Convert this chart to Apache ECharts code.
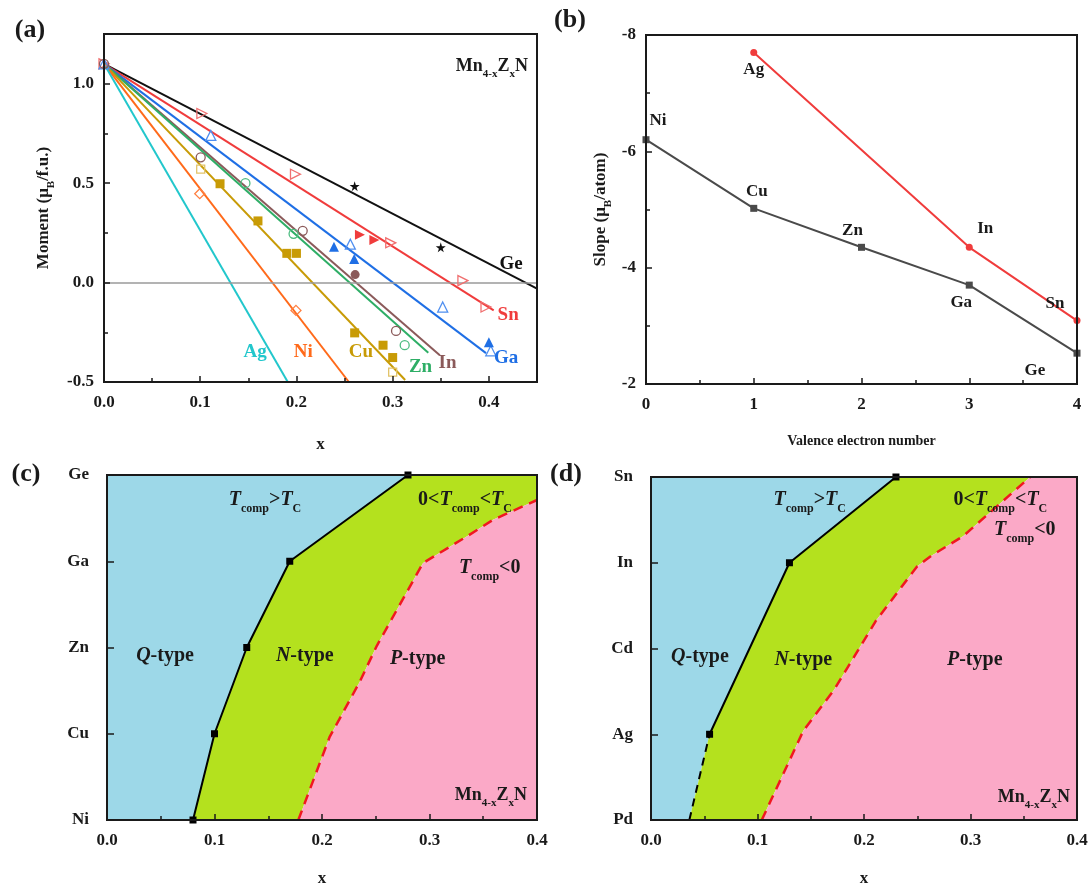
<!DOCTYPE html>
<html>
<head>
<meta charset="utf-8">
<script src="https://cdn.jsdelivr.net/npm/echarts@6/dist/echarts.min.js"></script>
<style>
html, body { margin: 0; padding: 0; background: #fff; }
#chart { width: 1092px; height: 888px; }
</style>
</head>
<body>
<div id="chart"></div>
<script>
// ---- (a) moment vs x: fitted lines all start at origin point ----
const fitStart = [0, 1.1];
const fitNames = ['Ge', 'Sn', 'Ga', 'In', 'Zn', 'Cu', 'Ni', 'Ag'];
const fitEnds = [[0.45, -0.03], [0.405, -0.14], [0.397, -0.355], [0.349, -0.365],
                 [0.337, -0.353], [0.313, -0.49], [0.2545, -0.5], [0.191, -0.5]];
const tagAtA = [[0.423, 0.095], [0.42, -0.165], [0.418, -0.38], [0.357, -0.405],
                [0.329, -0.425], [0.267, -0.35], [0.207, -0.35], [0.157, -0.35]];

// measured points
const geStar = [[0.2605, 0.485], [0.35, 0.177]];
const snOpen = [[0, 1.1], [0.1017, 0.85], [0.199, 0.545], [0.298, 0.20], [0.373, 0.01], [0.397, -0.123]];
const snFill = [[0.266, 0.24], [0.281, 0.214]];
const gaOpen = [[0, 1.1], [0.111, 0.74], [0.256, 0.193], [0.352, -0.123], [0.402, -0.343]];
const gaFill = [[0.239, 0.18], [0.26, 0.118], [0.40, -0.30]];
const inOpen = [[0, 1.1], [0.1005, 0.63], [0.2065, 0.26], [0.3035, -0.243]];
const inFill = [[0.261, 0.04]];
const znOpen = [[0.147, 0.50], [0.197, 0.245], [0.3125, -0.315]];
const cuFill = [[0.1206, 0.497], [0.16, 0.31], [0.19, 0.147], [0.20, 0.147], [0.2605, -0.253], [0.29, -0.315], [0.30, -0.377]];
const cuOpen = [[0.1005, 0.57], [0.30, -0.45]];
const niOpen = [[0.0995, 0.447], [0.1995, -0.14]];

// ---- (b) slope vs valence electron number ----
const valenceBlack = [0, 1, 2, 3, 4];
const slopeBlack = [-6.2, -5.02, -4.35, -3.70, -2.53];
const namesBlack = ['Ni', 'Cu', 'Zn', 'Ga', 'Ge'];
const valenceRed = [1, 3, 4];
const slopeRed = [-7.7, -4.35, -3.09];
const namesRed = ['Ag', 'In', 'Sn'];

// ---- (c) phase diagram, Z = Ni..Ge ----
const rowsC = ['Ni', 'Cu', 'Zn', 'Ga', 'Ge'];
const solidC = [[0.08, 0], [0.10, 1], [0.13, 2], [0.17, 3], [0.28, 4]];
const dashC = [[0.178, 0], [0.207, 0.96], [0.235, 1.6], [0.251, 2.02], [0.294, 2.98],
               [0.335, 3.29], [0.359, 3.48], [0.4, 3.71]];

// ---- (d) phase diagram, Z = Pd..Sn ----
const rowsD = ['Pd', 'Ag', 'Cd', 'In', 'Sn'];
const dashBlackD = [[0.036, 0], [0.055, 1]];
const solidD = [[0.055, 1], [0.13, 3], [0.23, 4]];
const dashD = [[0.104, 0], [0.143, 1.04], [0.172, 1.52], [0.211, 2.32], [0.25, 2.96],
               [0.263, 3.08], [0.293, 3.31], [0.356, 4]];

const regionNames = ['{i|T}{s|comp}>{i|T}{s|C}', '0<{i|T}{s|comp}<{i|T}{s|C}', '{i|T}{s|comp}<0',
                     '{i|Q}-type', '{i|N}-type', '{i|P}-type'];
const regionAtC = [[0.147, 3.71], [0.333, 3.71], [0.356, 2.92], [0.054, 1.9], [0.184, 1.9], [0.289, 1.87]];
const regionAtD = [[0.149, 3.73], [0.328, 3.73], [0.351, 3.38], [0.046, 1.9], [0.143, 1.87], [0.304, 1.87]];

const SERIF = '"Liberation Serif", "Times New Roman", serif';
const INK = '#1a1a1a';
const colorA = {
    Ge: '#111111', Sn: '#f03c3c', Ga: '#1f6fe5', In: '#8b5a5a',
    Zn: '#2eae66', Cu: '#c89b06', Ni: '#ff6a1a', Ag: '#22c7cc'
};
const STAR = 'path://M50,0 L61,35 L98,35 L68,57 L79,91 L50,70 L21,91 L32,57 L2,35 L39,35 Z';

function richOf(size, color) {
    return {
        s: { fontFamily: SERIF, fontWeight: 'bold', fontSize: Math.round(size * 0.62), color: color,
             verticalAlign: 'bottom', lineHeight: size + 4, padding: [0, 0, -3, 0] },
        i: { fontFamily: SERIF, fontWeight: 'bold', fontStyle: 'italic', fontSize: size, color: color, lineHeight: size + 4 }
    };
}
const tickLabel = { fontFamily: SERIF, fontWeight: 'bold', fontSize: 17, color: INK };
const axisLine = { show: true, onZero: false, lineStyle: { color: INK, width: 2 } };

function xAxisOf(gi, max, interval, name, nameGap, nameSize) {
    return {
        type: 'value', gridIndex: gi, min: 0, max: max, interval: interval, z: 11,
        axisLine: axisLine,
        axisTick: { show: true, inside: true, length: 6, lineStyle: { color: INK, width: 1.5 } },
        minorTick: { show: true, splitNumber: 2, length: 4, lineStyle: { color: INK, width: 1.5 } },
        splitLine: { show: false },
        axisLabel: Object.assign({ margin: 12, showMaxLabel: max === 0.45 ? false : true,
            formatter: v => (interval < 1 ? v.toFixed(1) : String(v)) }, tickLabel),
        name: name, nameLocation: 'middle', nameGap: nameGap,
        nameTextStyle: { fontFamily: SERIF, fontWeight: 'bold', fontSize: nameSize, color: INK }
    };
}

function rowAxis(gi, rows) {
    return {
        type: 'value', gridIndex: gi, min: 0, max: 4, interval: 1, z: 11,
        axisLine: axisLine,
        axisTick: { show: true, inside: true, length: 7, lineStyle: { color: INK, width: 1.5 } },
        splitLine: { show: false },
        axisLabel: Object.assign({ margin: 18, formatter: v => rows[v] }, tickLabel)
    };
}

function polygon(gi, poly, fill) {
    return {
        type: 'custom', xAxisIndex: gi, yAxisIndex: gi, z: 1, silent: true,
        data: [[0, 0]],
        renderItem: (params, api) => ({
            type: 'polygon',
            shape: { points: poly.map(p => api.coord(p)) },
            style: { fill: fill }
        })
    };
}

function marks(name, pts, symbol, color, filled, size, rotate) {
    return {
        type: 'scatter', name: name, xAxisIndex: 0, yAxisIndex: 0, z: 5,
        data: pts, symbol: symbol, symbolSize: size || 9, symbolRotate: rotate || 0,
        itemStyle: filled ? { color: color, opacity: 1 }
                          : { color: 'rgba(255,255,255,0)', borderColor: color, borderWidth: 1.3, opacity: 1 }
    };
}

function tags(gi, at, texts, colors, size) {
    return {
        type: 'scatter', xAxisIndex: gi, yAxisIndex: gi, z: 6, silent: true, symbolSize: 0,
        itemStyle: { opacity: 1 },
        data: at.map((p, i) => {
            const c = colors ? colors[i] : INK;
            return {
                value: p,
                label: {
                    show: true, position: [0, 0], align: 'center', verticalAlign: 'middle',
                    formatter: texts[i], textBorderWidth: 0, opacity: 1,
                    fontFamily: SERIF, fontWeight: 'bold', fontSize: size,
                    color: c, rich: richOf(size, c)
                }
            };
        })
    };
}

const series = [];

// (a) fitted lines
fitNames.forEach((n, i) => {
    series.push({
        type: 'line', name: n, xAxisIndex: 0, yAxisIndex: 0, z: 3,
        data: [fitStart, fitEnds[i]], showSymbol: false, silent: true,
        lineStyle: { color: colorA[n], width: 2 },
        markLine: i === 0 ? {
            silent: true, symbol: 'none', label: { show: false },
            lineStyle: { color: '#9a9a9a', width: 1.5, type: 'solid' },
            data: [{ yAxis: 0 }]
        } : undefined
    });
});
series.push(marks('GeStar', geStar, STAR, colorA.Ge, true, 10));
series.push(marks('SnOpen', snOpen, 'triangle', '#f07070', false, 10, -90));
series.push(marks('SnFill', snFill, 'triangle', colorA.Sn, true, 10, -90));
series.push(marks('GaOpen', gaOpen, 'triangle', '#4f8ff0', false, 10));
series.push(marks('GaFill', gaFill, 'triangle', colorA.Ga, true, 10));
series.push(marks('InOpen', inOpen, 'circle', colorA.In, false, 9));
series.push(marks('InFill', inFill, 'circle', colorA.In, true, 9));
series.push(marks('ZnOpen', znOpen, 'circle', '#4cbc80', false, 9));
series.push(marks('CuFill', cuFill, 'rect', colorA.Cu, true, 9));
series.push(marks('CuOpen', cuOpen, 'rect', '#e2c46a', false, 8));
series.push(marks('NiOpen', niOpen, 'diamond', '#ff7f40', false, 10));
series.push(tags(0, tagAtA, fitNames, fitNames.map(n => colorA[n]), 19));

// (b)
const placeBlack = [['top', [12, -2]], ['top', [3, 0]], ['top', [-9, 0]], ['bottom', [-8, 0]], ['bottom', [-42, 0]]];
const placeRed = [['bottom', [0, 0]], ['top', [16, -2]], ['top', [-22, 0]]];
series.push({
    type: 'line', xAxisIndex: 1, yAxisIndex: 1, z: 3,
    data: valenceBlack.map((v, i) => ({
        value: [v, slopeBlack[i]],
        label: { show: true, formatter: namesBlack[i], position: placeBlack[i][0], offset: placeBlack[i][1] }
    })),
    symbol: 'rect', symbolSize: 7,
    lineStyle: { color: '#4a4a4a', width: 2 }, itemStyle: { color: '#4a4a4a' },
    label: { fontFamily: SERIF, fontWeight: 'bold', fontSize: 17, color: INK }
});
series.push({
    type: 'line', xAxisIndex: 1, yAxisIndex: 1, z: 3,
    data: valenceRed.map((v, i) => ({
        value: [v, slopeRed[i]],
        label: { show: true, formatter: namesRed[i], position: placeRed[i][0], offset: placeRed[i][1] }
    })),
    symbol: 'circle', symbolSize: 7,
    lineStyle: { color: '#f03c3c', width: 2 }, itemStyle: { color: '#f03c3c' },
    label: { fontFamily: SERIF, fontWeight: 'bold', fontSize: 17, color: INK }
});

// (c) regions
const BLUE = '#9dd8e8', GREEN = '#b4e11e', PINK = '#fba9c7', RED = '#f01820';
series.push(polygon(2, [[0, 0], [0, 4]].concat(solidC.slice().reverse()), BLUE));
series.push(polygon(2, solidC.concat([[0.4, 4]], dashC.slice().reverse()), GREEN));
series.push(polygon(2, dashC.concat([[0.4, 0]]), PINK));
series.push({
    type: 'line', xAxisIndex: 2, yAxisIndex: 2, z: 3, data: solidC,
    symbol: 'rect', symbolSize: 7, itemStyle: { color: '#000' },
    lineStyle: { color: '#000', width: 2 }
});
series.push({
    type: 'line', xAxisIndex: 2, yAxisIndex: 2, z: 3, data: dashC, showSymbol: false,
    lineStyle: { color: RED, width: 2.5, type: [10, 7] }
});
series.push(tags(2, regionAtC, regionNames, null, 20));

// (d) regions
const edgeD = dashBlackD.concat(solidD.slice(1));
series.push(polygon(3, [[0, 0], [0, 4]].concat(edgeD.slice().reverse()), BLUE));
series.push(polygon(3, edgeD.concat(dashD.slice().reverse()), GREEN));
series.push(polygon(3, dashD.concat([[0.4, 4], [0.4, 0]]), PINK));
series.push({
    type: 'line', xAxisIndex: 3, yAxisIndex: 3, z: 3, data: dashBlackD, showSymbol: false,
    lineStyle: { color: '#000', width: 2, type: [8, 6] }
});
series.push({
    type: 'line', xAxisIndex: 3, yAxisIndex: 3, z: 3, data: solidD,
    symbol: 'rect', symbolSize: 7, itemStyle: { color: '#000' },
    lineStyle: { color: '#000', width: 2 }
});
series.push({
    type: 'line', xAxisIndex: 3, yAxisIndex: 3, z: 3, data: dashD, showSymbol: false,
    lineStyle: { color: RED, width: 2.5, type: [10, 7] }
});
series.push(tags(3, regionAtD, regionNames, null, 20));

const frame = { show: true, borderColor: INK, borderWidth: 2, backgroundColor: 'rgba(0,0,0,0)', z: 10 };
const formula = 'Mn{s|4-x}Z{s|x}N';
const txt = (x, y, text, size, align) => ({
    type: 'text', x: x, y: y, z: 20,
    style: {
        text: text, fontFamily: SERIF, fontWeight: 'bold', fontSize: size, fill: INK,
        align: align || 'center', verticalAlign: 'middle', rich: richOf(size, INK)
    }
});

const option = {
    animation: false,
    backgroundColor: '#fff',
    grid: [
        Object.assign({ left: 104, top: 34, width: 433, height: 348 }, frame),
        Object.assign({ left: 646, top: 35, width: 431, height: 349 }, frame),
        Object.assign({ left: 107, top: 475, width: 430, height: 346 }, frame),
        Object.assign({ left: 651, top: 477, width: 426, height: 343 }, frame)
    ],
    xAxis: [
        xAxisOf(0, 0.45, 0.1, 'x', 54, 17),
        xAxisOf(1, 4, 1, 'Valence electron number', 50, 14),
        xAxisOf(2, 0.4, 0.1, 'x', 50, 17),
        xAxisOf(3, 0.4, 0.1, 'x', 50, 17)
    ],
    yAxis: [
        {
            type: 'value', gridIndex: 0, min: -0.5, max: 1.25, interval: 0.5, z: 11,
            axisLine: axisLine,
            axisTick: { show: true, inside: true, length: 6, lineStyle: { color: INK, width: 1.5 } },
            minorTick: { show: true, splitNumber: 2, length: 4, lineStyle: { color: INK, width: 1.5 } },
            splitLine: { show: false },
            axisLabel: Object.assign({ margin: 10, showMaxLabel: false, formatter: v => v.toFixed(1) }, tickLabel),
            name: 'Moment (μ{s|B}/f.u.)', nameLocation: 'middle', nameGap: 50, nameRotate: 90,
            nameTextStyle: { fontFamily: SERIF, fontWeight: 'bold', fontSize: 17, color: INK, rich: richOf(17, INK) }
        },
        {
            type: 'value', gridIndex: 1, min: -8, max: -2, interval: 2, inverse: true, z: 11,
            axisLine: axisLine,
            axisTick: { show: true, inside: true, length: 6, lineStyle: { color: INK, width: 1.5 } },
            minorTick: { show: true, splitNumber: 2, length: 4, lineStyle: { color: INK, width: 1.5 } },
            splitLine: { show: false },
            axisLabel: Object.assign({ margin: 10 }, tickLabel),
            name: 'Slope (μ{s|B}/atom)', nameLocation: 'middle', nameGap: 35, nameRotate: 90,
            nameTextStyle: { fontFamily: SERIF, fontWeight: 'bold', fontSize: 17, color: INK, rich: richOf(17, INK) }
        },
        rowAxis(2, rowsC),
        rowAxis(3, rowsD)
    ],
    graphic: [
        txt(30, 30, '(a)', 26),
        txt(570, 20, '(b)', 26),
        txt(26, 474, '(c)', 26),
        txt(566, 474, '(d)', 26),
        txt(528, 66, formula, 18, 'right'),
        txt(527, 795, formula, 18, 'right'),
        txt(1070, 797, formula, 18, 'right')
    ],
    series: series
};

const chart = echarts.init(document.getElementById('chart'));
chart.setOption(option);
</script>
</body>
</html>
